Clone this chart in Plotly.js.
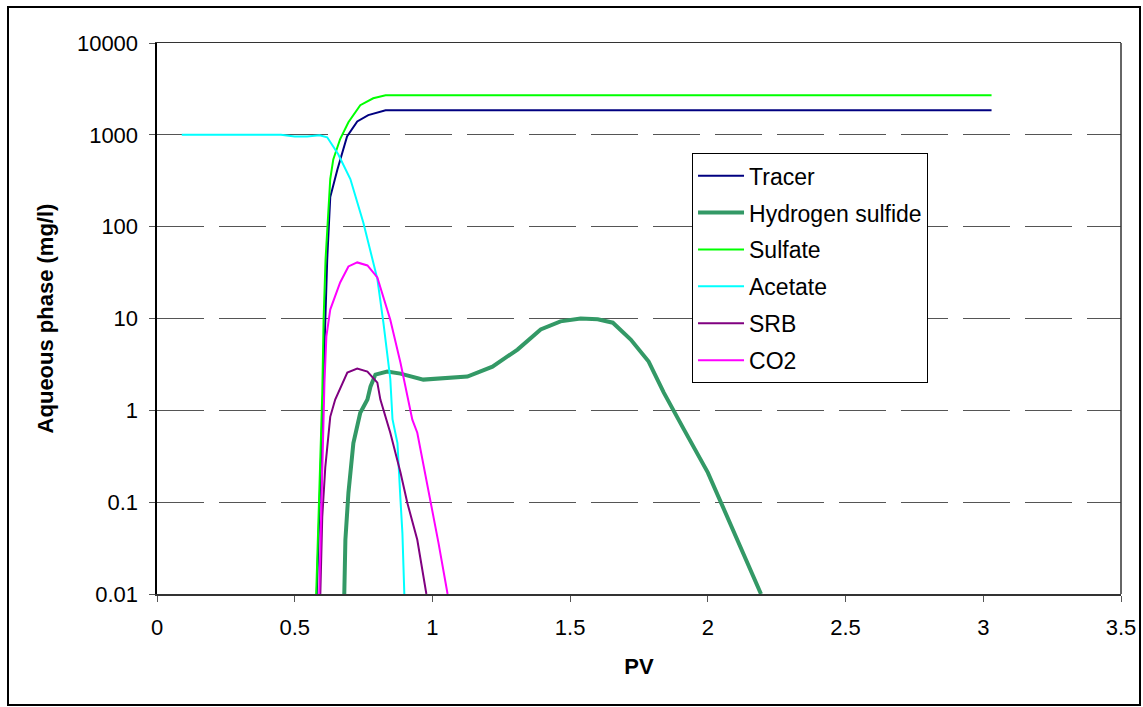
<!DOCTYPE html>
<html>
<head>
<meta charset="utf-8">
<script src="https://cdn.plot.ly/plotly-3.0.1.min.js"></script>
<style>html,body{margin:0;padding:0;background:#fff;}#chart{width:1143px;height:707px;}</style>
</head>
<body>
<div id="chart"></div>
<script>
// ---- data ----
const pvTracer = [0.58, 0.59, 0.60, 0.61, 0.618, 0.629, 0.655, 0.69, 0.727, 0.767, 0.83, 3.03];
const tracer   = [0.01, 0.1, 1.3, 10, 44, 210, 420, 960, 1400, 1640, 1850, 1850];

const pvSulfate = [0.578, 0.59, 0.60, 0.605, 0.612, 0.629, 0.64, 0.665, 0.695, 0.738, 0.785, 0.83, 3.03];
const sulfate   = [0.01, 0.15, 1.5, 10, 44, 330, 540, 900, 1370, 2100, 2500, 2700, 2700];

const pvAcetate = [0.09, 0.45, 0.5, 0.545, 0.59, 0.618, 0.658, 0.702, 0.749, 0.767, 0.8, 0.822, 0.847, 0.855, 0.873, 0.884, 0.891, 0.898];
const acetate   = [1000, 1000, 960, 960, 990, 940, 615, 330, 111, 67, 27, 9, 2.2, 0.8, 0.44, 0.106, 0.046, 0.01];

const pvSRB = [0.593, 0.6, 0.611, 0.629, 0.647, 0.691, 0.727, 0.764, 0.8, 0.811, 0.847, 0.884, 0.909, 0.945, 0.978];
const srb   = [0.01, 0.069, 0.24, 0.85, 1.31, 2.58, 2.85, 2.64, 2.0, 1.31, 0.57, 0.21, 0.098, 0.039, 0.01];

const pvCO2 = [0.589, 0.603, 0.608, 0.615, 0.629, 0.665, 0.695, 0.727, 0.764, 0.8, 0.847, 0.884, 0.927, 0.945, 0.993, 1.022, 1.055];
const co2   = [0.01, 0.8, 2, 6.4, 12.5, 24.7, 36.9, 40.8, 37.8, 28, 9.7, 3.3, 0.79, 0.57, 0.106, 0.036, 0.01];

const pvH2S = [0.68, 0.684, 0.695, 0.713, 0.738, 0.764, 0.775, 0.793, 0.836, 0.884, 0.967, 1.04, 1.127, 1.218, 1.309, 1.393, 1.465, 1.538, 1.6, 1.655, 1.72, 1.785, 1.84, 1.913, 2.0, 2.193];
const h2s   = [0.01, 0.039, 0.126, 0.44, 0.94, 1.31, 1.81, 2.45, 2.64, 2.51, 2.16, 2.22, 2.33, 2.99, 4.59, 7.6, 9.3, 10, 9.8, 9.0, 5.9, 3.4, 1.56, 0.62, 0.21, 0.01];

const yTickVals = [0.01, 0.1, 1, 10, 100, 1000, 10000];
const yTickText = ["0.01", "0.1", "1", "10", "100", "1000", "10000"];
const xTickVals = [0, 0.5, 1, 1.5, 2, 2.5, 3, 3.5];
const xTickText = ["0", "0.5", "1", "1.5", "2", "2.5", "3", "3.5"];

const FONT = '"Liberation Sans", Arial, sans-serif';

function tr(name, x, y, color, width, group) {
  return {x: x, y: y, name: name, type: 'scatter', mode: 'lines',
          line: {color: color, width: width}, legendgroup: group};
}

const data = [
  tr('Tracer', pvTracer, tracer, '#000080', 2, 'g1'),
  tr('Hydrogen sulfide', pvH2S, h2s, '#339966', 4, 'g2'),
  tr('Sulfate', pvSulfate, sulfate, '#00FF00', 2, 'g3'),
  tr('Acetate', pvAcetate, acetate, '#00FFFF', 2, 'g4'),
  tr('SRB', pvSRB, srb, '#800080', 2, 'g5'),
  tr('CO2', pvCO2, co2, '#FF00FF', 2, 'g6')
];

const layout = {
  width: 1143, height: 707,
  margin: {l: 157, r: 22, t: 43, b: 113, pad: 0},
  paper_bgcolor: '#ffffff', plot_bgcolor: '#ffffff',
  font: {family: FONT, size: 22, color: '#000'},
  showlegend: true,
  legend: {
    x: 0.555, y: 0.80, xanchor: 'left', yanchor: 'top',
    bgcolor: '#ffffff', bordercolor: '#000', borderwidth: 1,
    font: {family: FONT, size: 23, color: '#000'},
    traceorder: 'grouped', tracegroupgap: 4, itemwidth: 46
  },
  xaxis: {
    range: [0, 3.5], tickvals: xTickVals, ticktext: xTickText,
    showgrid: false, zeroline: false,
    showline: true, linecolor: '#333', linewidth: 1.5, mirror: true,
    ticks: 'outside', ticklen: 6, tickcolor: '#555', tickwidth: 1,
    ticklabelstandoff: 7,
    tickfont: {family: FONT, size: 22, color: '#000'},
    title: {text: '<b>PV</b>', font: {family: FONT, size: 22, color: '#000'}, standoff: 19}
  },
  yaxis: {
    type: 'log', range: [-2, 4], tickvals: yTickVals, ticktext: yTickText,
    showgrid: true, gridcolor: '#555', gridwidth: 1.2, griddash: '47px,15px',
    zeroline: false,
    showline: true, linecolor: '#000', linewidth: 2.5,
    ticks: 'outside', ticklen: 6, tickcolor: '#555', tickwidth: 1,
    ticklabelstandoff: 6,
    tickfont: {family: FONT, size: 22, color: '#000'},
    title: {text: '<b>Aqueous phase (mg/l)</b>', font: {family: FONT, size: 22, color: '#000'}, standoff: 17}
  },
  shapes: [
    {type: 'line', xref: 'paper', yref: 'paper', x0: 1, x1: 1, y0: 0, y1: 1,
     line: {color: '#333', width: 1.5}},
    {type: 'rect', xref: 'paper', yref: 'paper',
     x0: (8 - 157) / 964, x1: (1140 - 157) / 964,
     y0: (594 - 705) / 551, y1: (594 - 7) / 551,
     line: {color: '#000', width: 2}, fillcolor: 'rgba(0,0,0,0)'}
  ]
};

Plotly.newPlot('chart', data, layout, {staticPlot: true, displayModeBar: false});
</script>
</body>
</html>
